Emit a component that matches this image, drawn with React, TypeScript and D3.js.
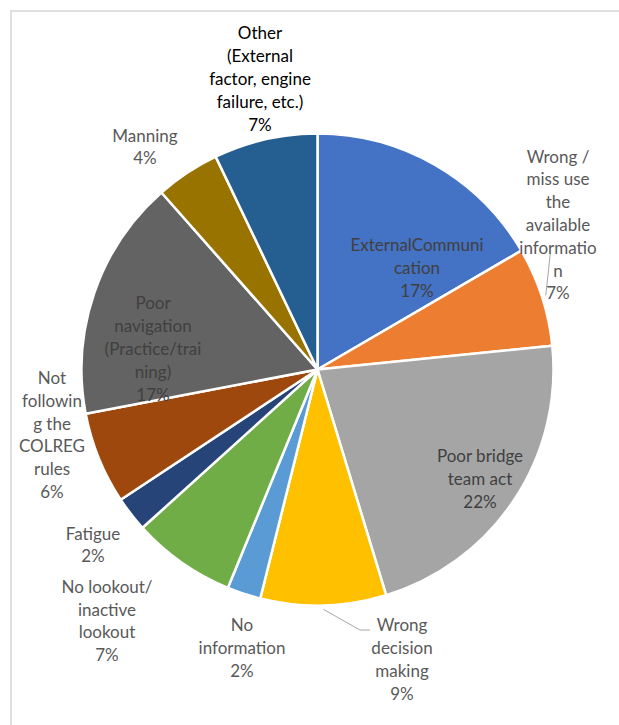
import React from "react";
import * as d3 from "d3";

// Share of contributing causes (percent), clockwise from 12 o'clock
const categories = [
  "ExternalCommunication",
  "Wrong / miss use the available information",
  "Poor bridge team act",
  "Wrong decision making",
  "No information",
  "No lookout/ inactive lookout",
  "Fatigue",
  "Not following the COLREG rules",
  "Poor navigation (Practice/training)",
  "Manning",
  "Other (External factor, engine failure, etc.)",
];
const values = [16.6, 6.8, 21.9, 8.6, 2.3, 7.1, 2.4, 6.3, 16.5, 4.4, 7.1];

// Wrapped label text, line by line
const labelLines = [
  ["ExternalCommuni", "cation"],
  ["Wrong /", "miss use", "the", "available", "informatio", "n"],
  ["Poor bridge", "team act"],
  ["Wrong", "decision", "making"],
  ["No", "information"],
  ["No lookout/", "inactive", "lookout"],
  ["Fatigue"],
  ["Not", "followin", "g the", "COLREG", "rules"],
  ["Poor", "navigation", "(Practice/trai", "ning)"],
  ["Manning"],
  ["Other", "(External", "factor, engine", "failure, etc.)"],
];

const colors = [
  "#4472C4", "#ED7D31", "#A5A5A5", "#FFC000", "#5B9BD5", "#70AD47",
  "#264478", "#9E480E", "#636363", "#997300", "#255E91",
];

// Label block centres relative to the pie centre
const labelOffsets: [number, number][] = [
  [99.5, -101.5],
  [240.5, -144.5],
  [162.5, 109.5],
  [84.5, 290],
  [-75.5, 278.5],
  [-210.5, 251.5],
  [-224.5, 175.5],
  [-265.5, 65.5],
  [-164.5, -20.5],
  [-172.5, -222.5],
  [-57.5, -290.5],
];
const labelInside = [true, false, true, false, false, false, false, false, true, false, false];
const labelColors = [
  "#404040", "#595959", "#404040", "#595959", "#595959", "#595959",
  "#595959", "#595959", "#404040", "#595959", "#000000",
];

// Leader lines: slice index -> bend / end points relative to the pie centre
const leaders: { index: number; points: [number, number][] }[] = [
  { index: 1, points: [[232.8, -116.2]] },
  { index: 3, points: [[42.5, 260.5], [52.5, 260.5]] },
];

const W = 619;
const H = 725;
const cx = 317.5;
const cy = 369.5;
const R = 236;
const LINE_H = 22.8;
const FONT = "Lato, 'Open Sans', sans-serif";
const FONT_SIZE = 17;

export default function App() {
  const total = d3.sum(values);
  const pie = d3
    .pie<number>()
    .sort(null)
    .value((d) => d);
  const arcs = pie(values);
  const arc = d3.arc<d3.PieArcDatum<number>>().innerRadius(0).outerRadius(R);

  const pct = (v: number) => `${Math.round((v / total) * 100)}%`;

  return (
    <svg
      width={W}
      height={H}
      style={{ position: "absolute", left: 0, top: 0, background: "#fff" }}
    >
      <rect x={11} y={11} width={640} height={740} fill="none" stroke="#D9D9D9" strokeWidth={1.6} />
      <g transform={`translate(${cx},${cy})`}>
        {arcs.map((a, i) => (
          <path
            key={categories[i]}
            d={arc(a) || ""}
            fill={colors[i]}
            stroke="#fff"
            strokeWidth={2.5}
            strokeLinejoin="round"
          />
        ))}
        {leaders.map((l) => {
          const a = arcs[l.index];
          const mid = (a.startAngle + a.endAngle) / 2;
          const r0 = R + 4;
          const start: [number, number] = [Math.sin(mid) * r0, -Math.cos(mid) * r0];
          const pts = [start, ...l.points];
          return (
            <polyline
              key={`leader-${l.index}`}
              points={pts.map((p) => p.join(",")).join(" ")}
              fill="none"
              stroke="#A6A6A6"
              strokeWidth={1}
            />
          );
        })}
        {arcs.map((a, i) => {
          const lines = [...labelLines[i], pct(values[i])];
          const [ox, oy] = labelOffsets[i];
          const top = oy - ((lines.length - 1) * LINE_H) / 2;
          return (
            <text
              key={`label-${i}`}
              textAnchor="middle"
              fontFamily={FONT}
              fontSize={FONT_SIZE}
              fill={labelColors[i]}
            >
              {lines.map((t, j) => (
                <tspan key={j} x={ox} y={top + j * LINE_H} dy="0.35em">
                  {t}
                </tspan>
              ))}
            </text>
          );
        })}
      </g>
    </svg>
  );
}
